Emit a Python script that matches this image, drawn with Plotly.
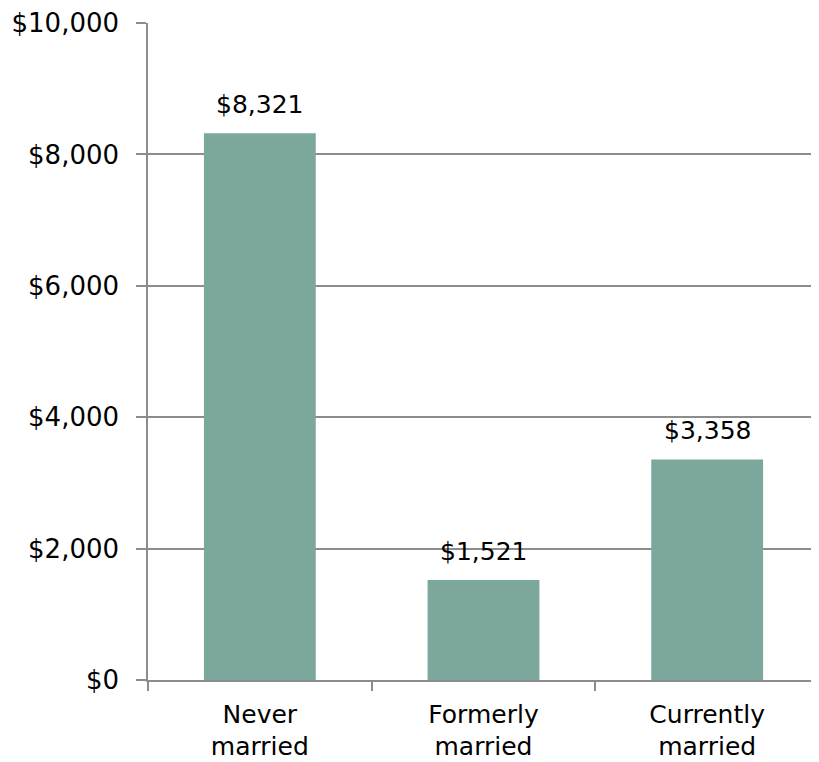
import plotly.graph_objects as go

categories = ["Never<br>married", "Formerly<br>married", "Currently<br>married"]
values = [8321, 1521, 3358]
value_labels = ["$8,321", "$1,521", "$3,358"]
y_ticks = [0, 2000, 4000, 6000, 8000, 10000]
y_tick_labels = ["$0", "$2,000", "$4,000", "$6,000", "$8,000", "$10,000"]

FONT = "DejaVu Sans"
GRAY = "#8c8c8c"

fig = go.Figure(go.Bar(
    x=categories, y=values,
    marker=dict(color="#7BA79D", line=dict(width=0)),
    width=0.5,
))

for c, v, t in zip(categories, values, value_labels):
    fig.add_annotation(
        x=c, y=v, text=t, showarrow=False,
        xanchor="center", yanchor="bottom", yshift=12,
        font=dict(family=FONT, size=25, color="black"),
    )

fig.update_layout(
    width=811, height=754,
    margin=dict(l=140, r=0, t=15, b=82, autoexpand=False),
    paper_bgcolor="white", plot_bgcolor="white",
    showlegend=False,
    font=dict(family=FONT, size=25, color="black"),
    xaxis=dict(
        automargin=False,
        showline=True, linecolor=GRAY, linewidth=1.5,
        ticks="outside", tickson="boundaries", ticklen=9, tickcolor=GRAY, tickwidth=1.5,
        tickfont=dict(family=FONT, size=25, color="black"),
        ticklabelstandoff=11,
        showgrid=False,
    ),
    yaxis=dict(
        automargin=False,
        range=[0, 10000],
        tickvals=y_ticks, ticktext=y_tick_labels,
        showline=True, linecolor=GRAY, linewidth=1.5,
        ticks="outside", ticklen=10, tickcolor=GRAY, tickwidth=1.5,
        ticklabelstandoff=12,
        showgrid=True, gridcolor=GRAY, gridwidth=1.5,
        zeroline=False,
        tickfont=dict(family=FONT, size=26, color="black"),
    ),
    bargap=0.5,
)

fig.write_html("out.html")
